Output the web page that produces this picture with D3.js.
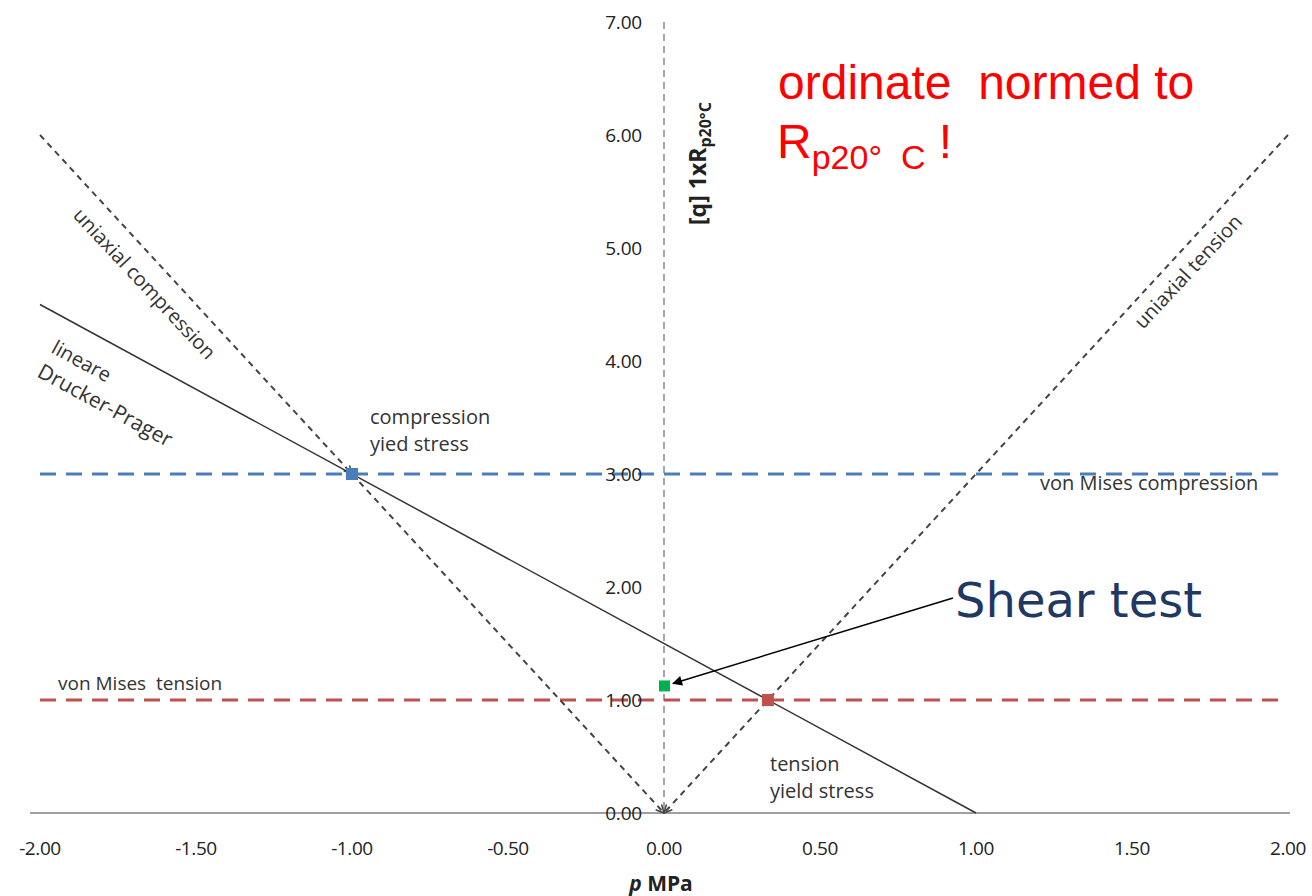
<!DOCTYPE html>
<html lang="en">
<head>
<meta charset="UTF-8">
<title>Drucker-Prager</title>
<script src="https://d3js.org/d3.v7.min.js"></script>
<style>
  body { margin: 0; background: #fff; }
</style>
</head>
<body>
<script>
// axis ticks
var xTicks = [-2, -1.5, -1, -0.5, 0, 0.5, 1, 1.5, 2];
var yTicks = [0, 1, 2, 3, 4, 5, 6, 7];

// lines (p, q)
var uniCompression = [[-2, 6], [-1, 3], [0, 0]];
var uniTension = [[2, 6], [0, 0]];
var druckerPrager = [[-2, 4.5], [1, 0]];
var misesCompression = [[-2, 3], [2, 3]];
var misesTension = [[-2, 1], [2, 1]];

// points
var compYield = [-1, 3];
var tensYield = [0.333, 1];
var shearTest = [0, 1.12];

var w = 1312, h = 896;
var sans = "'Open Sans', 'DejaVu Sans', sans-serif";

var x = d3.scaleLinear().domain([-2, 2]).range([40, 1288]);
var y = d3.scaleLinear().domain([0, 7]).range([813, 22]);

var svg = d3.select("body").append("svg")
    .attr("width", w)
    .attr("height", h)
    .style("font-family", sans);

var defs = svg.append("defs");
defs.append("marker")
    .attr("id", "open")
    .attr("viewBox", "0 0 10 10")
    .attr("refX", 9).attr("refY", 5)
    .attr("markerWidth", 5).attr("markerHeight", 5)
    .attr("orient", "auto")
  .append("path")
    .attr("d", "M1,1 L9,5 L1,9")
    .attr("fill", "none")
    .attr("stroke", "#444")
    .attr("stroke-width", 1.5);
defs.append("marker")
    .attr("id", "solid")
    .attr("viewBox", "0 0 10 10")
    .attr("refX", 9).attr("refY", 5)
    .attr("markerWidth", 13).attr("markerHeight", 10)
    .attr("markerUnits", "userSpaceOnUse")
    .attr("orient", "auto")
  .append("path")
    .attr("d", "M0,0 L10,5 L0,10 Z")
    .attr("fill", "#000");

var line = d3.line().x(function(d) { return x(d[0]); }).y(function(d) { return y(d[1]); });

// x axis (gray baseline)
svg.append("line")
    .attr("x1", 30).attr("x2", 1290)
    .attr("y1", y(0)).attr("y2", y(0))
    .attr("stroke", "#a0a0a0").attr("stroke-width", 2);

// y axis (dashed)
svg.append("line")
    .attr("x1", x(0)).attr("x2", x(0))
    .attr("y1", y(7)).attr("y2", y(0))
    .attr("stroke", "#888").attr("stroke-width", 1.5)
    .attr("stroke-dasharray", "7,5");

// von Mises lines
svg.append("path").datum(misesCompression)
    .attr("d", line).attr("fill", "none")
    .attr("stroke", "#4a7ebb").attr("stroke-width", 3)
    .attr("stroke-dasharray", "16,10");
svg.append("path").datum(misesTension)
    .attr("d", line).attr("fill", "none")
    .attr("stroke", "#c0504d").attr("stroke-width", 3)
    .attr("stroke-dasharray", "16,10");

// uniaxial lines
[[uniCompression[0], uniCompression[1]], [uniCompression[1], uniCompression[2]], uniTension].forEach(function(seg) {
  svg.append("path").datum(seg)
      .attr("d", line).attr("fill", "none")
      .attr("stroke", "#444").attr("stroke-width", 2)
      .attr("stroke-dasharray", "6,5")
      .attr("marker-end", "url(#open)");
});

// Drucker-Prager
svg.append("path").datum(druckerPrager)
    .attr("d", line).attr("fill", "none")
    .attr("stroke", "#333").attr("stroke-width", 1.5);

// y tick labels
svg.selectAll(".ytick").data(yTicks).enter().append("text")
    .attr("x", 642).attr("y", function(d) { return y(d) + 7; })
    .attr("text-anchor", "end")
    .attr("font-size", 19).attr("fill", "#222")
    .attr("letter-spacing", -0.2)
    .text(function(d) { return d.toFixed(2); });

// x tick labels
svg.selectAll(".xtick").data(xTicks).enter().append("text")
    .attr("x", function(d) { return x(d); }).attr("y", 855)
    .attr("text-anchor", "middle")
    .attr("font-size", 19).attr("fill", "#222")
    .attr("letter-spacing", -0.4)
    .text(function(d) { return d.toFixed(2); });

// axis titles
var xt = svg.append("text")
    .attr("x", x(0) - 3).attr("y", 891)
    .attr("text-anchor", "middle")
    .attr("font-size", 21).attr("font-weight", "bold").attr("fill", "#222");
xt.append("tspan").attr("font-style", "italic").text("p");
xt.append("tspan").text(" MPa");

var yt = svg.append("text")
    .attr("transform", "translate(706,225) rotate(-90)")
    .attr("font-size", 23).attr("font-weight", "bold").attr("fill", "#222");
yt.append("tspan").text("[q] 1xR");
yt.append("tspan").attr("font-size", 16).attr("dy", 5).text("p20°C");

// points
svg.append("rect")
    .attr("x", x(compYield[0]) - 6).attr("y", y(compYield[1]) - 6)
    .attr("width", 12).attr("height", 12).attr("fill", "#4a7ebb");
svg.append("rect")
    .attr("x", x(tensYield[0]) - 6).attr("y", y(tensYield[1]) - 6)
    .attr("width", 12).attr("height", 12).attr("fill", "#c0504d");
svg.append("rect")
    .attr("x", x(shearTest[0]) - 5).attr("y", y(shearTest[1]) - 6)
    .attr("width", 11).attr("height", 11).attr("fill", "#00b050");

// shear test arrow
svg.append("line")
    .attr("x1", 953).attr("y1", 598)
    .attr("x2", x(shearTest[0]) + 9).attr("y2", y(shearTest[1]) - 3)
    .attr("stroke", "#000").attr("stroke-width", 1.5)
    .attr("marker-end", "url(#solid)");
svg.append("text")
    .attr("x", 955).attr("y", 617)
    .style("font-family", "'DejaVu Sans', sans-serif")
    .attr("font-size", 48).attr("fill", "#1f3864")
    .text("Shear test");

// labels
var lab = "#333";
function label(txt, tx, ty, rot, size) {
  svg.append("text")
      .attr("transform", "translate(" + tx + "," + ty + ") rotate(" + rot + ")")
      .attr("font-size", size).attr("fill", lab)
      .attr("xml:space", "preserve")
      .text(txt);
}
label("uniaxial compression", 72, 216, 47, 20);
label("lineare", 50, 352, 28.5, 20);
label("Drucker-Prager", 36, 376, 28.5, 21);
label("uniaxial tension", 1143, 330, -47, 20);
label("compression", 370, 424, 0, 20);
label("yied stress", 370, 451, 0, 20);
label("tension", 770, 771, 0, 20);
label("yield stress", 770, 798, 0, 20);
label("von Mises compression", 1040, 490, 0, 20);
label("von Mises  tension", 58, 690, 0, 19);

// red note
var red = "'Liberation Sans', Arial, sans-serif";
svg.append("text")
    .attr("x", 778).attr("y", 99)
    .style("font-family", red)
    .attr("font-size", 48).attr("fill", "#ff0000")
    .attr("xml:space", "preserve")
    .text("ordinate  normed to");
var note = svg.append("text")
    .attr("x", 777).attr("y", 158)
    .style("font-family", red)
    .attr("font-size", 48).attr("fill", "#ff0000")
    .attr("xml:space", "preserve");
note.append("tspan").text("R");
note.append("tspan").attr("font-size", 34).attr("dy", 11).text("p20°  C");
note.append("tspan").attr("dy", -11).text(" !");
</script>
</body>
</html>
